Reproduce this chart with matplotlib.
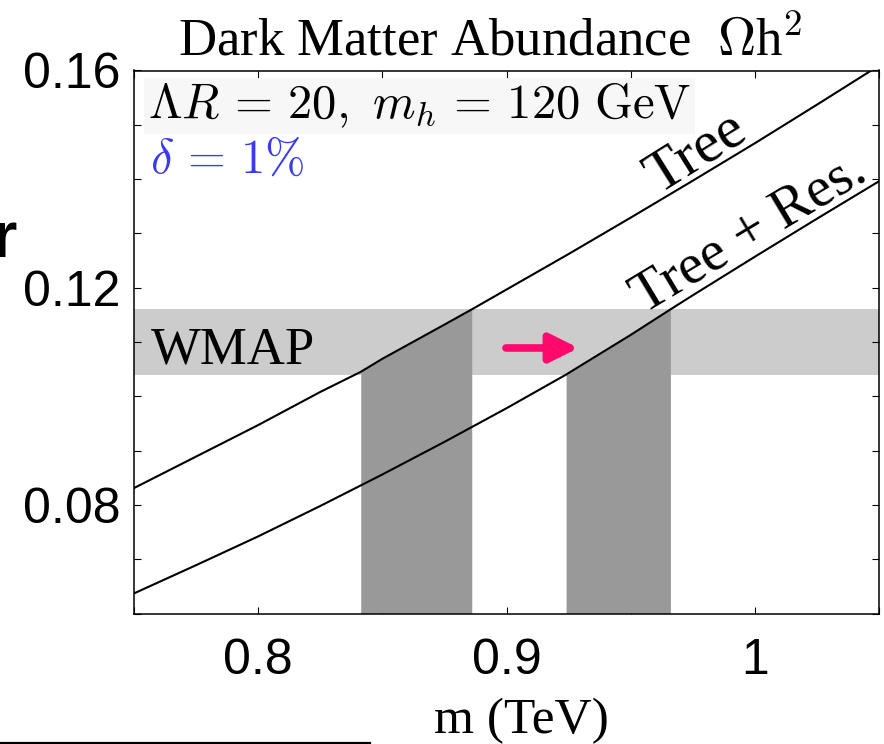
import numpy as np
import matplotlib
matplotlib.use("Agg")
import matplotlib.pyplot as plt
from matplotlib.lines import Line2D

plt.rcParams['mathtext.fontset'] = 'cm'

# ---- data ----
tree_x = [0.75, 0.775, 0.80, 0.825, 0.8413, 0.85, 0.875, 0.886, 0.925, 0.95, 0.975, 1.0, 1.025, 1.05]
tree_y = [0.0831, 0.0889, 0.0947, 0.1008, 0.1045, 0.1069, 0.1132, 0.1160, 0.1262, 0.1329,
          0.1397, 0.1466, 0.1537, 0.1609]
res_x = [0.75, 0.775, 0.80, 0.825, 0.85, 0.875, 0.90, 0.924, 0.95, 0.966, 0.975, 1.0, 1.025, 1.05]
res_y = [0.0637, 0.0689, 0.0742, 0.0798, 0.0856, 0.0916, 0.0978, 0.1040, 0.1113, 0.1160,
         0.1186, 0.1257, 0.1327, 0.1396]
wmap_lo, wmap_hi = 0.104, 0.116
tree_band = (0.8413, 0.886)
res_band = (0.924, 0.966)
xticks = [0.8, 0.9, 1.0]
xticklabels = ["0.8", "0.9", "1"]
yticks = [0.08, 0.12, 0.16]
yticklabels = ["0.08", "0.12", "0.16"]
xminor = [0.75, 0.85, 0.95, 1.05]
yminor = [0.06, 0.07, 0.09, 0.10, 0.11, 0.13, 0.14, 0.15]

W, H = 884, 744
fig = plt.figure(figsize=(W / 100, H / 100), dpi=100)
ax = fig.add_axes([134 / W, 1 - 613.5 / H, (879 - 134) / W, (613.5 - 70.5) / H])
ax.set_xlim(0.75, 1.05)
ax.set_ylim(0.06, 0.16)

# WMAP band
ax.axhspan(wmap_lo, wmap_hi, color='#cccccc', lw=0, zorder=1)

# dark bands under curves
tx = np.array(tree_x); ty = np.array(tree_y)
rx = np.array(res_x); ry = np.array(res_y)
ax.fill_between(tx, 0.06, ty, where=(tx >= tree_band[0]) & (tx <= tree_band[1]),
                color='#999999', lw=0, zorder=2)
ax.fill_between(rx, 0.06, ry, where=(rx >= res_band[0]) & (rx <= res_band[1]),
                color='#999999', lw=0, zorder=2)

# curves
ax.plot(tree_x, tree_y, color='black', lw=1.5, zorder=3)
ax.plot(res_x, res_y, color='black', lw=1.5, zorder=3)

serif = 'Liberation Serif'
sans = 'Liberation Sans'

ax.text(0.7567, 0.1061, "WMAP", family=serif, fontsize=38, va='baseline', ha='left', zorder=4)
ax.text(0.9768, 0.1447, "Tree", family=serif, fontsize=43, rotation=32,
        rotation_mode='anchor', ha='center', va='center', zorder=4)
ax.text(0.9978, 0.1299, "Tree + Res.", family=serif, fontsize=41, rotation=31,
        rotation_mode='anchor', ha='center', va='center', zorder=4)

ax.annotate('', xy=(0.929, 0.1089), xytext=(0.8998, 0.1089),
            arrowprops=dict(arrowstyle='-|>,head_length=1.0,head_width=0.5',
                            color='#ff0a6c', lw=5.5, shrinkA=0, shrinkB=0,
                            mutation_scale=17), zorder=5)

ax.text(0.7556, 0.1512, r"$\Lambda R\,=\,20,\ m_h\,=\,120\ \mathrm{GeV}$", fontsize=35,
        va='baseline', ha='left', zorder=4,
        bbox=dict(boxstyle='square,pad=0.08', fc='#f7f7f7', ec='none'))
ax.text(0.7563, 0.1411, r"$\delta\,=\,1\%$", fontsize=35, color='#3a3aee',
        va='baseline', ha='left', zorder=4)

# ticks
ax.set_xticks(xticks)
ax.set_xticklabels(xticklabels, family=sans, fontsize=36)
ax.set_yticks(yticks)
ax.set_yticklabels(yticklabels, family=sans, fontsize=36)
ax.set_xticks(xminor, minor=True)
ax.set_yticks(yminor, minor=True)
ax.tick_params(which='both', direction='in', length=5, width=0.8,
               top=True, right=True)
ax.tick_params(axis='x', which='major', pad=18)
ax.tick_params(axis='y', which='major', pad=10)
for s in ax.spines.values():
    s.set_linewidth(1.1)

# titles and labels
fig.text(490 / W, 1 - 55 / H, r"Dark Matter Abundance  $\Omega$h$^2$", family=serif,
         fontsize=38, ha='center', va='baseline')
fig.text(521.7 / W, 1 - 733 / H, "m (TeV)", family=serif, fontsize=37,
         ha='center', va='baseline')
fig.text(17 / W, 1 - 257 / H, "r", family=sans, fontweight='bold', fontsize=47,
         ha='right', va='baseline')
fig.add_artist(Line2D([0, 370 / W], [1 - 742.5 / H, 1 - 742.5 / H],
                      color='black', lw=1.6, transform=fig.transFigure))

fig.savefig("out.png", dpi=100)
